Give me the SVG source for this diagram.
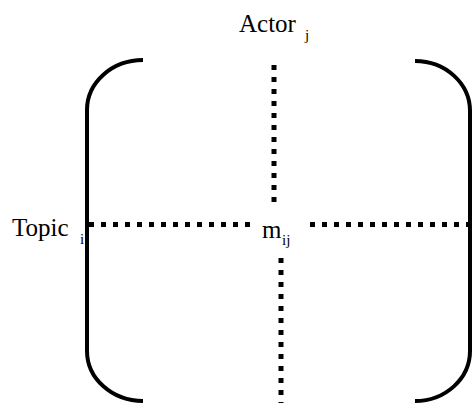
<svg xmlns="http://www.w3.org/2000/svg" width="472" height="403" viewBox="0 0 472 403">
<style>
.br{fill:none;stroke:#000;stroke-width:4}
.dot{fill:none;stroke:#000;stroke-width:5;stroke-dasharray:5 7}
text{font-family:"Liberation Serif","Times New Roman",serif;fill:#000}
.lbl{font-size:25px}
.sub{font-size:15px}
</style>
<rect width="472" height="403" fill="#fff"/>
<g id="bracket-left"><path class="br" d="M143,60 A56,50 0 0 0 87,110 L87,351 A56,50 0 0 0 143,401"/></g>
<g id="bracket-right"><path class="br" d="M415,61 A55,50 0 0 1 470,111 L470,351 A55,50 0 0 1 415,401"/></g>
<g id="connectors">
<line class="dot" x1="274" y1="65" x2="274" y2="204"/>
<line class="dot" x1="281" y1="258" x2="281" y2="403"/>
<line class="dot" x1="89" y1="224.5" x2="250" y2="224.5"/>
<line class="dot" x1="310" y1="224.5" x2="470" y2="224.5"/>
</g>
<g id="actor"><text class="lbl" x="239" y="32">Actor</text><text class="sub" x="305" y="40">j</text></g>
<g id="topic"><text class="lbl" x="12" y="236">Topic</text><text class="sub" x="80" y="244">i</text></g>
<g id="cell"><text class="lbl" x="262" y="238">m</text><text class="sub" x="282" y="245">ij</text></g>
</svg>
